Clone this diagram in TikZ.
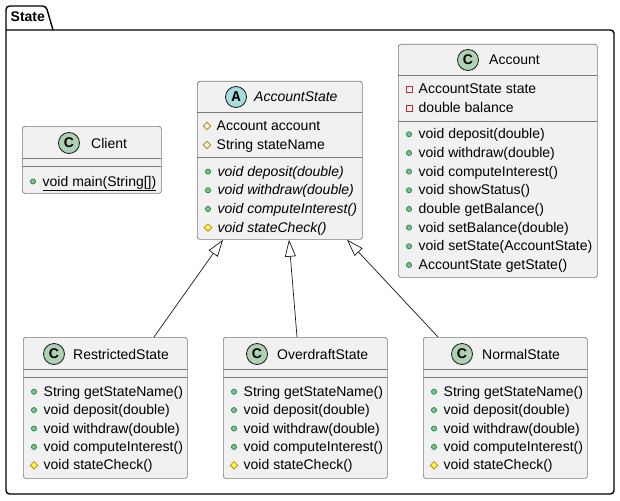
\documentclass[tikz,border=0pt]{standalone}
\usepackage{fontspec}
\setmainfont{Liberation Sans}
\newfontfamily\spotmono{Liberation Mono}
\usetikzlibrary{arrows.meta,calc}
\definecolor{umlfill}{HTML}{F1F1F1}
\definecolor{umlline}{HTML}{181818}
\definecolor{boxline}{HTML}{7A7A7A}
\definecolor{cgreen}{HTML}{ADD1B2}
\definecolor{ablue}{HTML}{A9DCDF}
\definecolor{pubfill}{HTML}{84BE84}
\definecolor{publine}{HTML}{038048}
\definecolor{protline}{HTML}{B38D22}
\definecolor{protfill}{HTML}{FFFF44}
\definecolor{privline}{HTML}{C82930}
\tikzset{
  cls/.style={draw=boxline, fill=umlfill, line width=0.7pt, rounded corners=2.5pt, anchor=north west, inner sep=0pt},
  sepl/.style={draw=boxline, line width=0.7pt},
  row/.style={anchor=base west, inner sep=0pt, font=\fontsize{14}{16}\selectfont},
  spot/.style={circle, draw=umlline, line width=0.8pt, minimum size=21pt, inner sep=0pt, font=\fontsize{14}{16}\selectfont\bfseries},
  inh/.style={draw=umlline, line width=0.7pt, -{Triangle[length=17pt, width=11pt, fill=white, line width=0.7pt]}},
  pkg/.style={draw=black, line width=1.4pt, rounded corners=3.5pt},
}
\newcommand\pubicon[2]{\filldraw[fill=pubfill, draw=publine, line width=0.6pt] (#1,#2) circle (2.6pt);}
\newcommand\privicon[2]{\draw[privline, line width=0.8pt] (#1-3,#2-3) rectangle (#1+3,#2+3);}
\newcommand\protfield[2]{\draw[protline, line width=0.8pt] (#1,#2-3.7) -- (#1+3.7,#2) -- (#1,#2+3.7) -- (#1-3.7,#2) -- cycle;}
\newcommand\protmeth[2]{\filldraw[fill=protfill, draw=protline, line width=0.8pt] (#1,#2-3.7) -- (#1+3.7,#2) -- (#1,#2+3.7) -- (#1-3.7,#2) -- cycle;}
\newcommand\mrow[5]{#2{#3+11}{#4}\node[row] (#1) at (#3+20.5,#4+4.5) {#5};}
\begin{document}
\begin{tikzpicture}[x=1pt,y=-1pt]
\useasboundingbox (0,0) rectangle (620,500);
% package frame
\draw[pkg] (6,30) -- (614,30) -- (614,494) -- (6,494) -- (6,6) -- (46,6) -- (53,30);
\node[anchor=base west, inner sep=0pt, font=\fontsize{14}{16}\selectfont\bfseries] (pkgname) at (10.5,22) {State};

% Client
\node[cls, minimum width=139pt, minimum height=67pt] (client) at (22,126) {};
\draw[sepl] (22,158) -- (161,158);
\draw[sepl] (22,166) -- (161,166);
\node[spot, fill=cgreen] (clientspot) at (69,143) {C};
\node[row] (clientname) at (91,148) {Client};
\mrow{clm1}{\pubicon}{22}{181.5}{\underline{void main(String[])}}

% AccountState
\node[cls, minimum width=165pt, minimum height=158pt] (as) at (197,81) {};
\draw[sepl] (197,112) -- (362,112);
\draw[sepl] (197,157) -- (362,157);
\node[spot, fill=ablue, font=\fontsize{15}{16}\selectfont\spotmono\bfseries] (asspot) at (236,97) {A};
\node[row, font=\fontsize{14}{16}\selectfont\itshape] (asname) at (254,102) {AccountState};
\mrow{asa1}{\protfield}{196}{126}{Account account}
\mrow{asa2}{\protfield}{196}{145}{String stateName}
\mrow{asm1}{\pubicon}{197}{171.6}{\itshape void deposit(double)}
\mrow{asm2}{\pubicon}{197}{190.3}{\itshape void withdraw(double)}
\mrow{asm3}{\pubicon}{197}{209}{\itshape void computeInterest()}
\mrow{asm4}{\protmeth}{197}{227.6}{\itshape void stateCheck()}

% Account
\node[cls, minimum width=199pt, minimum height=233pt] (acc) at (398,44) {};
\draw[sepl] (398,75) -- (597,75);
\draw[sepl] (398,121) -- (597,121);
\node[spot, fill=cgreen] (accspot) at (468,60) {C};
\node[row] (accname) at (489,65) {Account};
\mrow{aca1}{\privicon}{398}{89}{AccountState state}
\mrow{aca2}{\privicon}{398}{108}{double balance}
\mrow{acm1}{\pubicon}{398}{134.3}{void deposit(double)}
\mrow{acm2}{\pubicon}{398}{153}{void withdraw(double)}
\mrow{acm3}{\pubicon}{398}{171.6}{void computeInterest()}
\mrow{acm4}{\pubicon}{398}{190.3}{void showStatus()}
\mrow{acm5}{\pubicon}{398}{209}{double getBalance()}
\mrow{acm6}{\pubicon}{398}{227.6}{void setBalance(double)}
\mrow{acm7}{\pubicon}{398}{246.3}{void setState(AccountState)}
\mrow{acm8}{\pubicon}{398}{265}{AccountState getState()}

% RestrictedState
\node[cls, minimum width=164pt, minimum height=141pt] (rs) at (23,337) {};
\draw[sepl] (23,369) -- (187,369);
\draw[sepl] (23,377) -- (187,377);
\node[spot, fill=cgreen] (rsspot) at (54,354) {C};
\node[row] (rsname) at (73,359) {RestrictedState};
\mrow{rsm1}{\pubicon}{23}{391.7}{String getStateName()}
\mrow{rsm2}{\pubicon}{23}{410.1}{void deposit(double)}
\mrow{rsm3}{\pubicon}{23}{428.5}{void withdraw(double)}
\mrow{rsm4}{\pubicon}{23}{446.9}{void computeInterest()}
\mrow{rsm5}{\protmeth}{23}{465.3}{void stateCheck()}

% OverdraftState
\node[cls, minimum width=164pt, minimum height=141pt] (od) at (223,337) {};
\draw[sepl] (223,369) -- (387,369);
\draw[sepl] (223,377) -- (387,377);
\node[spot, fill=cgreen] (odspot) at (257,354) {C};
\node[row] (odname) at (277,359) {OverdraftState};
\mrow{odm1}{\pubicon}{223}{391.7}{String getStateName()}
\mrow{odm2}{\pubicon}{223}{410.1}{void deposit(double)}
\mrow{odm3}{\pubicon}{223}{428.5}{void withdraw(double)}
\mrow{odm4}{\pubicon}{223}{446.9}{void computeInterest()}
\mrow{odm5}{\protmeth}{223}{465.3}{void stateCheck()}

% NormalState
\node[cls, minimum width=164pt, minimum height=141pt] (ns) at (423,337) {};
\draw[sepl] (423,369) -- (587,369);
\draw[sepl] (423,377) -- (587,377);
\node[spot, fill=cgreen] (nsspot) at (462,354) {C};
\node[row] (nsname) at (482,359) {NormalState};
\mrow{nsm1}{\pubicon}{423}{391.7}{String getStateName()}
\mrow{nsm2}{\pubicon}{423}{410.1}{void deposit(double)}
\mrow{nsm3}{\pubicon}{423}{428.5}{void withdraw(double)}
\mrow{nsm4}{\pubicon}{423}{446.9}{void computeInterest()}
\mrow{nsm5}{\protmeth}{423}{465.3}{void stateCheck()}

% inheritance
\draw[inh] ($(rs.north west)+(131,0)$) -- ($(as.south west)+(26,0)$);
\draw[inh] ($(od.north west)+(74,0)$) -- ($(as.south west)+(92,0)$);
\draw[inh] ($(ns.north west)+(15,0)$) -- ($(as.south west)+(150,0)$);
\end{tikzpicture}
\end{document}
